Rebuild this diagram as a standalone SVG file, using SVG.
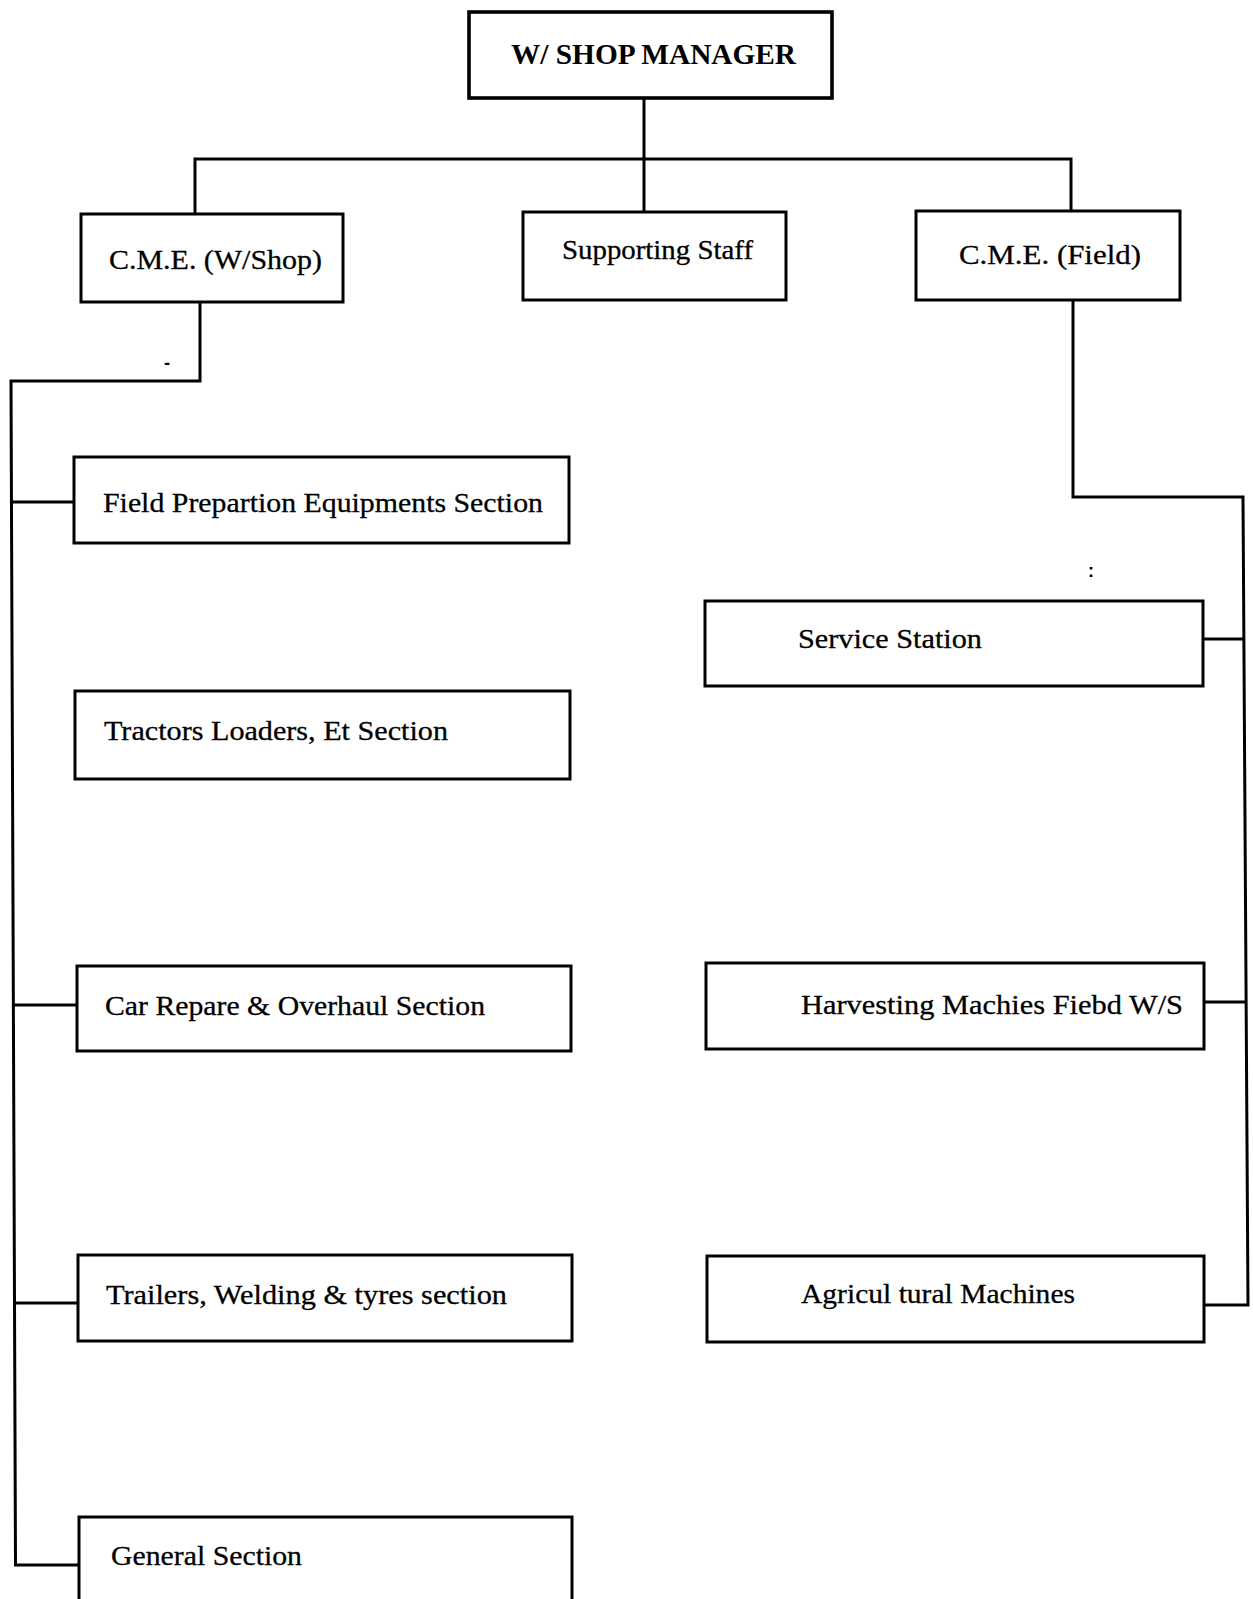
<svg xmlns="http://www.w3.org/2000/svg" width="1253" height="1599" viewBox="0 0 1253 1599">
<style>
.box{fill:#fff;stroke:#000;stroke-width:3}
.mgr{fill:#fff;stroke:#000;stroke-width:3.6}
.ln{fill:none;stroke:#000;stroke-width:3;stroke-linejoin:miter}
.t{font-family:"Liberation Serif","Times New Roman",serif;font-size:28px;fill:#000;stroke:#000;stroke-width:0.3}
.tb{font-family:"Liberation Serif","Times New Roman",serif;font-size:29px;font-weight:bold;fill:#000}
.m{font-family:"Liberation Sans",Arial,sans-serif;font-size:18px;font-weight:bold;fill:#000}
</style>
<rect width="1253" height="1599" fill="#fff"/>
<g id="connectors">
<path class="ln" d="M644,98 V212"/>
<path class="ln" d="M195,214 V159 H1071 V211"/>
<path class="ln" d="M200,302 V381 H11 L15.5,1565 H79"/>
<path class="ln" d="M11.5,502 H74"/>
<path class="ln" d="M13,1005 H77"/>
<path class="ln" d="M14.5,1303 H78"/>
<path class="ln" d="M1073,300 V497 H1243 L1248,1305 H1205"/>
<path class="ln" d="M1203,639 H1244"/>
<path class="ln" d="M1204,1002 H1246"/>
</g>
<g id="manager">
<rect class="mgr" x="469" y="12" width="363" height="86"/>
<text class="tb" x="511" y="64" textLength="285" lengthAdjust="spacingAndGlyphs">W/ SHOP MANAGER</text>
</g>
<g id="cme-wshop">
<rect class="box" x="81" y="214" width="262" height="88"/>
<text class="t" x="109" y="269" textLength="213" lengthAdjust="spacingAndGlyphs">C.M.E. (W/Shop)</text>
</g>
<g id="supporting-staff">
<rect class="box" x="523" y="212" width="263" height="88"/>
<text class="t" x="562" y="259" textLength="191" lengthAdjust="spacingAndGlyphs">Supporting Staff</text>
</g>
<g id="cme-field">
<rect class="box" x="916" y="211" width="264" height="89"/>
<text class="t" x="959" y="264" textLength="182" lengthAdjust="spacingAndGlyphs">C.M.E. (Field)</text>
</g>
<g id="field-prep">
<rect class="box" x="74" y="457" width="495" height="86"/>
<text class="t" x="103" y="512" textLength="440" lengthAdjust="spacingAndGlyphs">Field Prepartion Equipments Section</text>
</g>
<g id="tractors">
<rect class="box" x="75" y="691" width="495" height="88"/>
<text class="t" x="104" y="740" textLength="344" lengthAdjust="spacingAndGlyphs">Tractors Loaders, Et Section</text>
</g>
<g id="car-repare">
<rect class="box" x="77" y="966" width="494" height="85"/>
<text class="t" x="105" y="1015" textLength="380" lengthAdjust="spacingAndGlyphs">Car Repare &amp; Overhaul Section</text>
</g>
<g id="trailers">
<rect class="box" x="78" y="1255" width="494" height="86"/>
<text class="t" x="106" y="1304" textLength="401" lengthAdjust="spacingAndGlyphs">Trailers, Welding &amp; tyres section</text>
</g>
<g id="general">
<rect class="box" x="79" y="1517" width="493" height="100"/>
<text class="t" x="111" y="1565" textLength="191" lengthAdjust="spacingAndGlyphs">General Section</text>
</g>
<g id="service-station">
<rect class="box" x="705" y="601" width="498" height="85"/>
<text class="t" x="798" y="648" textLength="184" lengthAdjust="spacingAndGlyphs">Service Station</text>
</g>
<g id="harvesting">
<rect class="box" x="706" y="963" width="498" height="86"/>
<text class="t" x="801" y="1014" textLength="382" lengthAdjust="spacingAndGlyphs">Harvesting Machies Fiebd W/S</text>
</g>
<g id="agricultural">
<rect class="box" x="707" y="1256" width="497" height="86"/>
<text class="t" x="801" y="1303" textLength="274" lengthAdjust="spacingAndGlyphs">Agricul tural Machines</text>
</g>
<g id="marks">
<text class="m" x="1088" y="577">:</text>
<text class="m" x="164" y="369">-</text>
</g>
</svg>
